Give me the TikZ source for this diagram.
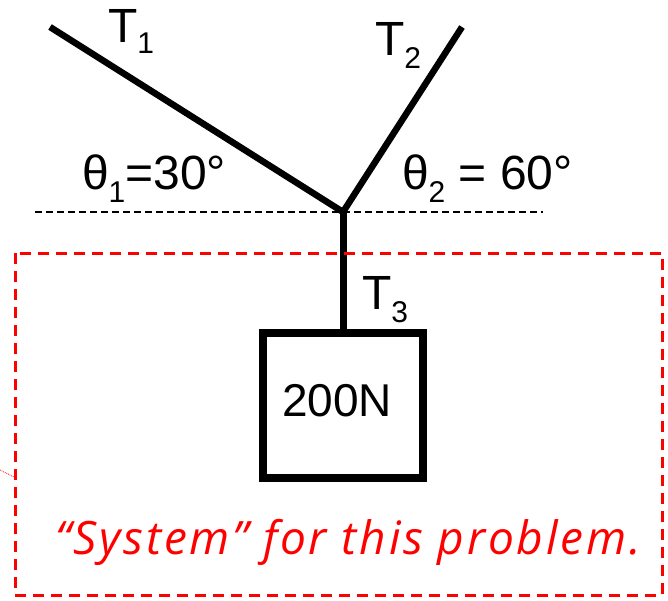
\documentclass[tikz,border=0pt]{standalone}
\usepackage{fontspec}
\setmainfont{Liberation Sans}
\newfontfamily\handfont[LetterSpace=6]{Open Sans}
\newcommand{\subs}[2]{\raisebox{-#1pt}{\fontsize{30}{30}\selectfont #2}}
\begin{document}
\begin{tikzpicture}[x=1pt,y=-1pt,
  lbl/.style={anchor=base west, inner sep=0pt, outer sep=0pt, font=\fontsize{48}{48}\selectfont},
  rope/.style={line width=6.5pt, line join=miter},
  sysbox/.style={draw=red, line width=3pt, dash pattern=on 11pt off 7pt},
  refline/.style={draw=black, line width=2pt, dash pattern=on 7pt off 4pt}]
\useasboundingbox (0,0) rectangle (668,600);
\coordinate (t1end) at (50,27);
\coordinate (t2end) at (462,27);
\coordinate (j) at (343,212);
\coordinate (hl) at (35,212);
\coordinate (hr) at (543,212);
\node[draw, line width=8pt, minimum width=160pt, minimum height=145pt, inner sep=0pt] (box) at (343,405.5) {};
\node[lbl, font=\fontsize{46}{46}\selectfont] (w) at (282,416) {200N};
\draw[refline] (hl) -- (hr);
\draw[rope] (t1end) -- (j) -- (t2end);
\draw[line width=7pt] (j) -- (box.north);
\node[lbl] (T1) at (108,42) {T\subs{11}{1}};
\node[lbl] (T2) at (375,55) {T\subs{13}{2}};
\node[lbl] (T3) at (362,309) {T\subs{13}{3}};
\node[lbl] (th1) at (82,189) {θ\subs{13}{1}=30°};
\node[lbl] (th2) at (402,189) {θ\subs{13}{2} = 60°};
\draw[sysbox] (15,253) rectangle (662,595);
\coordinate (s1) at (0,470);
\coordinate (s2) at (16,478);
\draw[red, line width=0.8pt, densely dotted] (s1) -- (s2);
\node[lbl, text=red, font=\handfont\itshape\fontsize{46}{46}\selectfont] (sys) at (55,554) {“System” for this problem.};
\end{tikzpicture}
\end{document}
